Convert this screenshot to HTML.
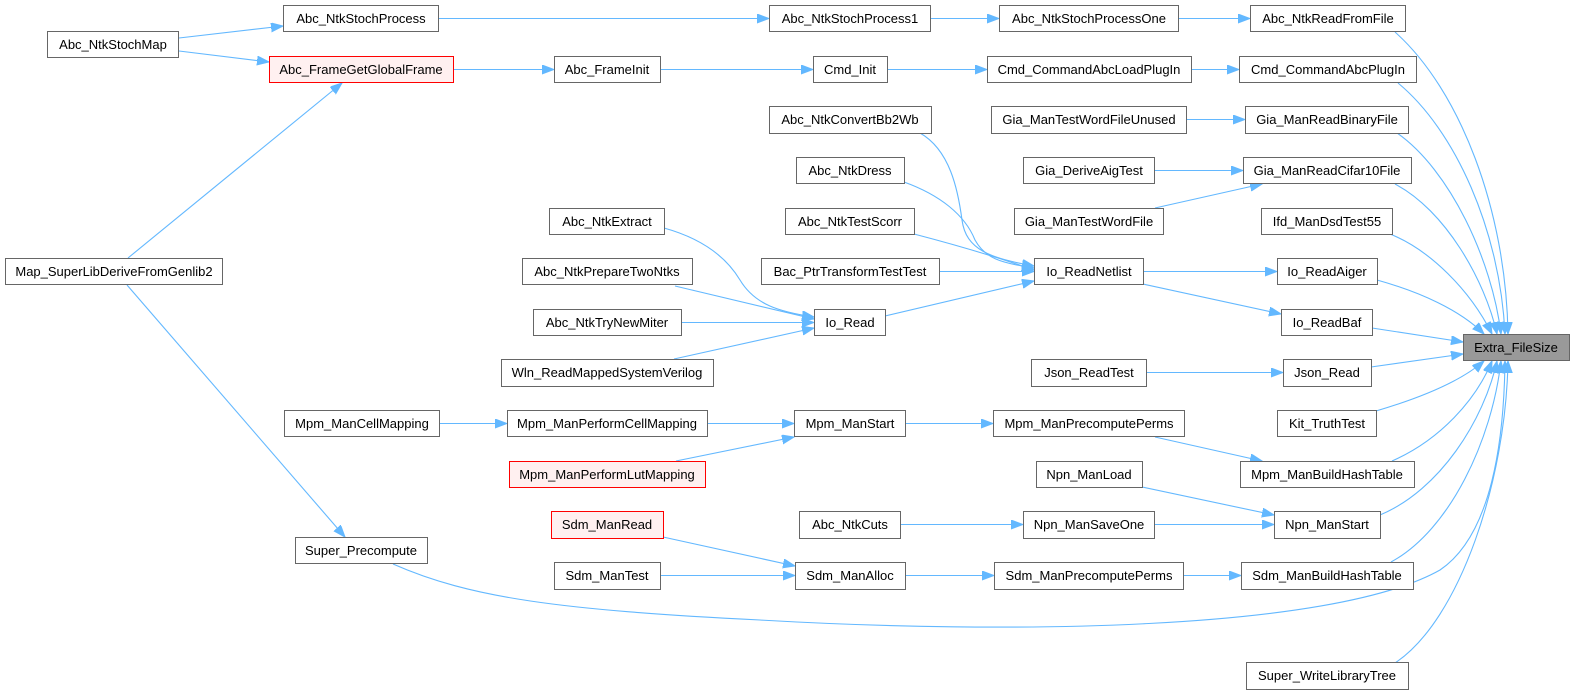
<!DOCTYPE html>
<html><head><meta charset="utf-8"><style>
html,body{margin:0;padding:0;background:#fff;}
svg{display:block;}
text{font-family:"Liberation Sans",Arial,sans-serif;font-size:13px;fill:#000;text-anchor:middle;}
.n{fill:#fff;stroke:#666;stroke-width:1;}
.r{fill:#fff0f0;stroke:#ff0000;stroke-width:1;}
.g{fill:#999;stroke:#666;stroke-width:1;}
.e{fill:none;stroke:#63b8ff;stroke-width:1.1;marker-end:url(#a);}
</style></head><body>
<svg width="1575" height="696" viewBox="0 0 1575 696" xmlns="http://www.w3.org/2000/svg">
<defs><marker id="a" markerWidth="13" markerHeight="10" refX="12" refY="4.5" orient="auto" markerUnits="userSpaceOnUse"><path d="M0,0 L12,4.5 L0,9 z" fill="#63b8ff" stroke="#63b8ff" stroke-width="1"/></marker></defs>

<!-- edges -->
<path class="e" d="M179,38 L283,26"/>
<path class="e" d="M179,51 L269,62"/>
<path class="e" d="M128,258 L342,83"/>
<path class="e" d="M127,285 L345,537"/>
<path class="e" d="M438,18.5 L769,18.5"/>
<path class="e" d="M453,69.5 L554,69.5"/>
<path class="e" d="M660,69.5 L813,69.5"/>
<path class="e" d="M887,69.5 L987,69.5"/>
<path class="e" d="M1191,69.5 L1239,69.5"/>
<path class="e" d="M930,18.5 L999,18.5"/>
<path class="e" d="M1178,18.5 L1250,18.5"/>
<path class="e" d="M1186,119.5 L1245,119.5"/>
<path class="e" d="M1154,170.5 L1243,170.5"/>
<path class="e" d="M1155,208 L1262,184"/>
<path class="e" d="M920,133 C950,150 958,190 962,220 C966,250 990,258 1034,266"/>
<path class="e" d="M904,182 C940,195 965,215 975,240 C985,258 1000,263 1034,268"/>
<path class="e" d="M914,234 C960,246 1000,258 1034,270"/>
<path class="e" d="M939,271.5 L1034,271.5"/>
<path class="e" d="M885,316 L1034,281"/>
<path class="e" d="M664,228 C700,238 725,255 740,280 C755,305 780,312 814,317"/>
<path class="e" d="M675,286 L814,319"/>
<path class="e" d="M681,322.5 L814,322.5"/>
<path class="e" d="M674,359 L814,328"/>
<path class="e" d="M1143,271.5 L1277,271.5"/>
<path class="e" d="M1143,284 L1281,314"/>
<path class="e" d="M1146,372.5 L1283,372.5"/>
<path class="e" d="M439,423.5 L507,423.5"/>
<path class="e" d="M707,423.5 L794,423.5"/>
<path class="e" d="M676,461 L794,437"/>
<path class="e" d="M905,423.5 L993,423.5"/>
<path class="e" d="M1155,437 L1262,461"/>
<path class="e" d="M1142,487 L1274,515"/>
<path class="e" d="M900,524.5 L1023,524.5"/>
<path class="e" d="M1154,524.5 L1274,524.5"/>
<path class="e" d="M663,537 L795,566"/>
<path class="e" d="M660,575.5 L795,575.5"/>
<path class="e" d="M905,575.5 L994,575.5"/>
<path class="e" d="M1183,575.5 L1241,575.5"/>

<!-- into Extra_FileSize -->
<path class="e" d="M1395,32 C1460,90 1506,210 1508,334"/>
<path class="e" d="M1398,83 C1455,130 1500,230 1505,334"/>
<path class="e" d="M1397,133 C1450,170 1492,260 1501,334"/>
<path class="e" d="M1395,184 C1445,210 1485,280 1497,334"/>
<path class="e" d="M1390,234 C1430,250 1470,290 1492,334"/>
<path class="e" d="M1377,280 C1420,292 1460,310 1484,334"/>
<path class="e" d="M1372,328 L1463,342"/>
<path class="e" d="M1371,367 L1463,354"/>
<path class="e" d="M1376,411 C1420,398 1460,382 1484,361"/>
<path class="e" d="M1392,461 C1440,440 1476,400 1492,361"/>
<path class="e" d="M1380,515 C1440,490 1484,420 1497,361"/>
<path class="e" d="M1391,562 C1450,530 1492,440 1501,361"/>
<path class="e" d="M393,564 C470,598 560,610 760,620 C1000,634 1330,632 1440,570 C1492,535 1504,440 1505,361"/>
<path class="e" d="M1395,663 C1460,620 1506,480 1508,361"/>

<!-- nodes -->
<rect class="n" x="47.5" y="31.5" width="131" height="26"/><text x="113" y="49">Abc_NtkStochMap</text>
<rect class="n" x="5.5" y="258.5" width="217" height="26"/><text x="114" y="276">Map_SuperLibDeriveFromGenlib2</text>

<rect class="n" x="283.5" y="5.5" width="155" height="26"/><text x="361" y="23">Abc_NtkStochProcess</text>
<rect class="r" x="269.5" y="56.5" width="184" height="26"/><text x="361" y="74">Abc_FrameGetGlobalFrame</text>
<rect class="n" x="284.5" y="410.5" width="155" height="26"/><text x="362" y="428">Mpm_ManCellMapping</text>
<rect class="n" x="295.5" y="537.5" width="132" height="26"/><text x="361" y="555">Super_Precompute</text>

<rect class="n" x="554.5" y="56.5" width="106" height="26"/><text x="607" y="74">Abc_FrameInit</text>
<rect class="n" x="549.5" y="208.5" width="115" height="26"/><text x="607" y="226">Abc_NtkExtract</text>
<rect class="n" x="522.5" y="258.5" width="170" height="26"/><text x="607" y="276">Abc_NtkPrepareTwoNtks</text>
<rect class="n" x="533.5" y="309.5" width="148" height="26"/><text x="607" y="327">Abc_NtkTryNewMiter</text>
<rect class="n" x="501.5" y="359.5" width="212" height="27"/><text x="607" y="377">Wln_ReadMappedSystemVerilog</text>
<rect class="n" x="507.5" y="410.5" width="200" height="26"/><text x="607" y="428">Mpm_ManPerformCellMapping</text>
<rect class="r" x="509.5" y="461.5" width="196" height="26"/><text x="607" y="479">Mpm_ManPerformLutMapping</text>
<rect class="r" x="551.5" y="511.5" width="112" height="27"/><text x="607" y="529">Sdm_ManRead</text>
<rect class="n" x="554.5" y="562.5" width="106" height="27"/><text x="607" y="580">Sdm_ManTest</text>

<rect class="n" x="769.5" y="5.5" width="161" height="26"/><text x="850" y="23">Abc_NtkStochProcess1</text>
<rect class="n" x="813.5" y="56.5" width="74" height="26"/><text x="850" y="74">Cmd_Init</text>
<rect class="n" x="769.5" y="106.5" width="162" height="27"/><text x="850" y="124">Abc_NtkConvertBb2Wb</text>
<rect class="n" x="796.5" y="157.5" width="108" height="26"/><text x="850" y="175">Abc_NtkDress</text>
<rect class="n" x="785.5" y="208.5" width="129" height="26"/><text x="850" y="226">Abc_NtkTestScorr</text>
<rect class="n" x="761.5" y="258.5" width="178" height="26"/><text x="850" y="276">Bac_PtrTransformTestTest</text>
<rect class="n" x="814.5" y="309.5" width="71" height="26"/><text x="850" y="327">Io_Read</text>
<rect class="n" x="794.5" y="410.5" width="111" height="26"/><text x="850" y="428">Mpm_ManStart</text>
<rect class="n" x="799.5" y="511.5" width="101" height="27"/><text x="850" y="529">Abc_NtkCuts</text>
<rect class="n" x="795.5" y="562.5" width="110" height="27"/><text x="850" y="580">Sdm_ManAlloc</text>

<rect class="n" x="999.5" y="5.5" width="179" height="26"/><text x="1089" y="23">Abc_NtkStochProcessOne</text>
<rect class="n" x="987.5" y="56.5" width="204" height="26"/><text x="1089" y="74">Cmd_CommandAbcLoadPlugIn</text>
<rect class="n" x="991.5" y="106.5" width="195" height="27"/><text x="1089" y="124">Gia_ManTestWordFileUnused</text>
<rect class="n" x="1023.5" y="157.5" width="131" height="26"/><text x="1089" y="175">Gia_DeriveAigTest</text>
<rect class="n" x="1014.5" y="208.5" width="149" height="26"/><text x="1089" y="226">Gia_ManTestWordFile</text>
<rect class="n" x="1034.5" y="258.5" width="109" height="26"/><text x="1089" y="276">Io_ReadNetlist</text>
<rect class="n" x="1031.5" y="359.5" width="115" height="27"/><text x="1089" y="377">Json_ReadTest</text>
<rect class="n" x="993.5" y="410.5" width="191" height="26"/><text x="1089" y="428">Mpm_ManPrecomputePerms</text>
<rect class="n" x="1036.5" y="461.5" width="106" height="26"/><text x="1089" y="479">Npn_ManLoad</text>
<rect class="n" x="1023.5" y="511.5" width="131" height="27"/><text x="1089" y="529">Npn_ManSaveOne</text>
<rect class="n" x="994.5" y="562.5" width="189" height="27"/><text x="1089" y="580">Sdm_ManPrecomputePerms</text>

<rect class="n" x="1250.5" y="5.5" width="155" height="26"/><text x="1328" y="23">Abc_NtkReadFromFile</text>
<rect class="n" x="1239.5" y="56.5" width="177" height="26"/><text x="1328" y="74">Cmd_CommandAbcPlugIn</text>
<rect class="n" x="1245.5" y="106.5" width="163" height="27"/><text x="1327" y="124">Gia_ManReadBinaryFile</text>
<rect class="n" x="1243.5" y="157.5" width="168" height="26"/><text x="1327" y="175">Gia_ManReadCifar10File</text>
<rect class="n" x="1261.5" y="208.5" width="131" height="26"/><text x="1327" y="226">Ifd_ManDsdTest55</text>
<rect class="n" x="1277.5" y="258.5" width="100" height="26"/><text x="1327" y="276">Io_ReadAiger</text>
<rect class="n" x="1281.5" y="309.5" width="91" height="26"/><text x="1327" y="327">Io_ReadBaf</text>
<rect class="n" x="1283.5" y="359.5" width="88" height="27"/><text x="1327" y="377">Json_Read</text>
<rect class="n" x="1277.5" y="410.5" width="99" height="26"/><text x="1327" y="428">Kit_TruthTest</text>
<rect class="n" x="1240.5" y="461.5" width="174" height="26"/><text x="1327" y="479">Mpm_ManBuildHashTable</text>
<rect class="n" x="1274.5" y="511.5" width="106" height="27"/><text x="1327" y="529">Npn_ManStart</text>
<rect class="n" x="1241.5" y="562.5" width="172" height="27"/><text x="1327" y="580">Sdm_ManBuildHashTable</text>
<rect class="n" x="1246.5" y="662.5" width="162" height="27"/><text x="1327" y="680">Super_WriteLibraryTree</text>

<rect class="g" x="1463.5" y="334.5" width="106" height="26"/><text x="1516" y="352">Extra_FileSize</text>
</svg>
</body></html>
